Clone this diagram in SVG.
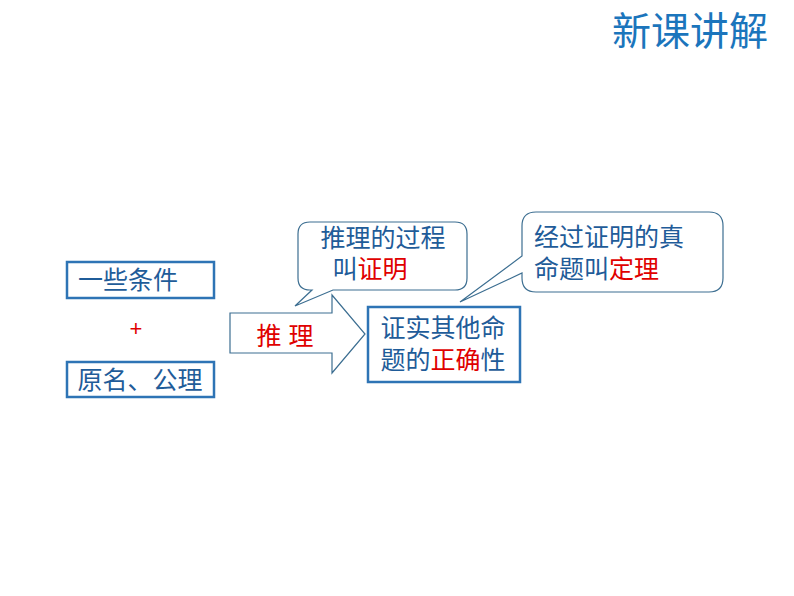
<svg xmlns="http://www.w3.org/2000/svg" width="794" height="596" viewBox="0 0 794 596">
<style>
.t{font-family:"Liberation Sans","Noto Sans CJK SC",sans-serif;font-size:25px;fill:#1f5c99}
.r{fill:#e00000}
.box{fill:#fff;stroke:#2e74b5;stroke-width:2.5}
.call{fill:#fff;stroke:#3c6e91;stroke-width:1.2}
</style>
<rect width="794" height="596" fill="#fff"/>
<text x="768" y="45" text-anchor="end" style="font-family:'Noto Sans CJK SC',sans-serif;font-size:39px;fill:#1b75bc">新课讲解</text>
<g id="n1"><rect class="box" x="67" y="262" width="147" height="36"/><text class="t" x="128" y="289" text-anchor="middle">一些条件</text></g>
<g id="plus"><text class="t r" x="136" y="336" text-anchor="middle" style="font-size:22px">+</text></g>
<g id="n2"><rect class="box" x="67" y="362" width="147" height="35"/><text class="t" x="140" y="389" text-anchor="middle">原名、公理</text></g>
<g id="connectors">
<path d="M230,313 H332 V295 L365,334 L332,373 V353 H230 Z" fill="#fff" stroke="#3c6e91" stroke-width="1.2"/>
</g>
<g id="arrowlabel"><text class="t r" x="285" y="345" text-anchor="middle">推  理</text></g>
<g id="n3"><rect class="box" x="368" y="307" width="152" height="75"/>
<text class="t" x="443" y="337" text-anchor="middle">证实其他命</text>
<text class="t" x="443" y="369" text-anchor="middle">题的<tspan class="r">正确</tspan>性</text></g>
<g id="c1"><path class="call" d="M310,222 H455 Q467,222 467,234 V278 Q467,290 455,290 H333 L295,306 L312,290 H310 Q298,290 298,278 V234 Q298,222 310,222 Z"/>
<text class="t" x="383" y="247" text-anchor="middle">推理的过程</text>
<text class="t" x="370" y="278" text-anchor="middle">叫<tspan class="r">证明</tspan></text></g>
<g id="c2"><path class="call" d="M536,212 H709 Q723,212 723,226 V278 Q723,292 709,292 H536 Q522,292 522,278 V273 L460,302 L522,256 V226 Q522,212 536,212 Z"/>
<text class="t" x="534" y="246">经过证明的真</text>
<text class="t" x="534" y="278">命题叫<tspan class="r">定理</tspan></text></g>
</svg>
